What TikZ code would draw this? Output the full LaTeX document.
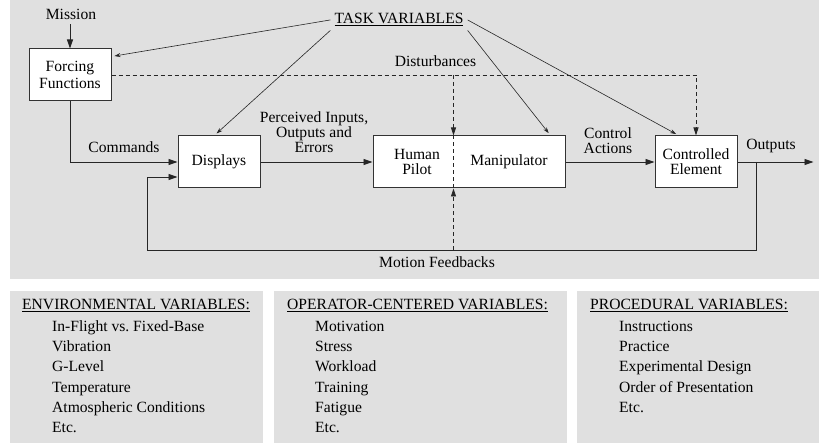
\documentclass[tikz,border=0pt]{standalone}
\usepackage{fontspec}
\setmainfont{Liberation Serif}
\usetikzlibrary{arrows.meta,positioning,calc}

\tikzset{
  block/.style={draw=black!80, line width=1pt, fill=white, minimum width=82pt,
    minimum height=52pt, inner sep=0pt, align=center},
  flow/.style={draw=black!85, line width=0.9pt, -{Triangle[length=9pt,width=6pt]}},
  link/.style={draw=black!85, line width=0.6pt, -{Stealth[length=6pt,width=4pt]}},
  dist/.style={draw=black!85, line width=0.8pt, dash pattern=on 4pt off 3pt},
  dtip/.style={-{Triangle[length=8pt,width=5pt]}},
  panel/.style={fill=black!12},
  lbl/.style={inner sep=0pt, anchor=base, align=center},
  item/.style={inner sep=0pt, anchor=base west},
}

\begin{document}
\begin{tikzpicture}[x=1pt,y=-1pt,font=\fontsize{15.6}{15}\selectfont]
\useasboundingbox (0,0) rectangle (819,443);

% grey backgrounds
\fill[panel] (10,0) rectangle (819,279);
\fill[panel] (10,291) rectangle (263,443);
\fill[panel] (274,291) rectangle (567,443);
\fill[panel] (577,291) rectangle (819,443);

% blocks
\node(forcing)[block] at (70,75) {Forcing\\[2pt]Functions};

\node(displays)[block, below right=34pt and 66pt of forcing] {Displays};

\node(hpm)[block, minimum width=192pt, right=112pt of displays] {};

\node(human)[inner sep=0pt, align=center] at ($(hpm.center)+(-52,0)$) {Human\\Pilot};

\node(manip)[inner sep=0pt] at ($(hpm.center)+(40,0)$) {Manipulator};

\node(ctrl)[block, right=89pt of hpm] {Controlled\\Element};

% labels
\node(mission)[lbl] at (71,20) {Mission};
\node(task)[lbl, inner sep=4pt] at (399,24) {\underline{TASK VARIABLES}};
\node(disturb)[lbl] at (435.5,67) {Disturbances};
\node(commands)[lbl] at (124,153) {Commands};
\node(perceived)[lbl, anchor=south] at (314,153) {Perceived Inputs,\\Outputs and\\Errors};
\node(actions)[lbl, anchor=south] at (608,154) {Control\\Actions};
\node(outputs)[lbl] at (771,150) {Outputs};
\node(motion)[lbl] at (437,268) {Motion Feedbacks};

\coordinate (split) at ($(hpm.north west)+(81,0)$);
\coordinate (tap) at ($(ctrl.east)+(19,0)$);
\coordinate (out) at ($(ctrl.east)+(76,0)$);
\coordinate (fbcorner) at (147,250);
\coordinate (fbin) at ($(displays.west)+(0,15)$);

% main loop
\draw [flow] (forcing.north |- mission.south) [shorten <=4pt] -- (forcing.north);
\draw [flow] (forcing.south) |- (displays.west);
\draw [flow] (displays.east) -- (hpm.west);
\draw [flow] (hpm.east) -- (ctrl.west);
\draw [flow] (ctrl.east) -- (out);
\draw [flow] (tap) |- (fbcorner) |- (fbin);

% task variables
\draw [link, shorten >=3pt] (task.west) -- (forcing.24);
\draw [link, shorten >=3pt] (task.south west) -- (displays.100);
\draw [link, shorten >=3pt] (task.south east) -- (hpm.18);
\draw [link, shorten >=3pt] (task.east) -- (ctrl.123);

% disturbances and motion feedbacks
\draw [dist, dtip] (forcing.east) -| (ctrl.north);
\draw [dist, dtip] (split |- forcing.east) -- (split);
\draw [dist] (split) -- (split |- hpm.south);
\draw [dist, dtip] (split |- fbcorner) -- (split |- hpm.south);

% variable lists
\node(env)[item] at (22,309.6) {\underline{ENVIRONMENTAL VARIABLES:}};
\foreach \t [count=\i] in {In-Flight vs.\ Fixed-Base, Vibration, G-Level, Temperature, Atmospheric Conditions, Etc.}
  \node(env-\i)[item] at (52,312+20*\i) {\t};

\node(oper)[item] at (287,309.6) {\underline{OPERATOR-CENTERED VARIABLES:}};
\foreach \t [count=\i] in {Motivation, Stress, Workload, Training, Fatigue, Etc.}
  \node(oper-\i)[item] at (315,312+20*\i) {\t};

\node(proc)[item] at (590,309.6) {\underline{PROCEDURAL VARIABLES:}};
\foreach \t [count=\i] in {Instructions, Practice, Experimental Design, Order of Presentation, Etc.}
  \node(proc-\i)[item] at (619,312+20*\i) {\t};

\end{tikzpicture}
\end{document}
